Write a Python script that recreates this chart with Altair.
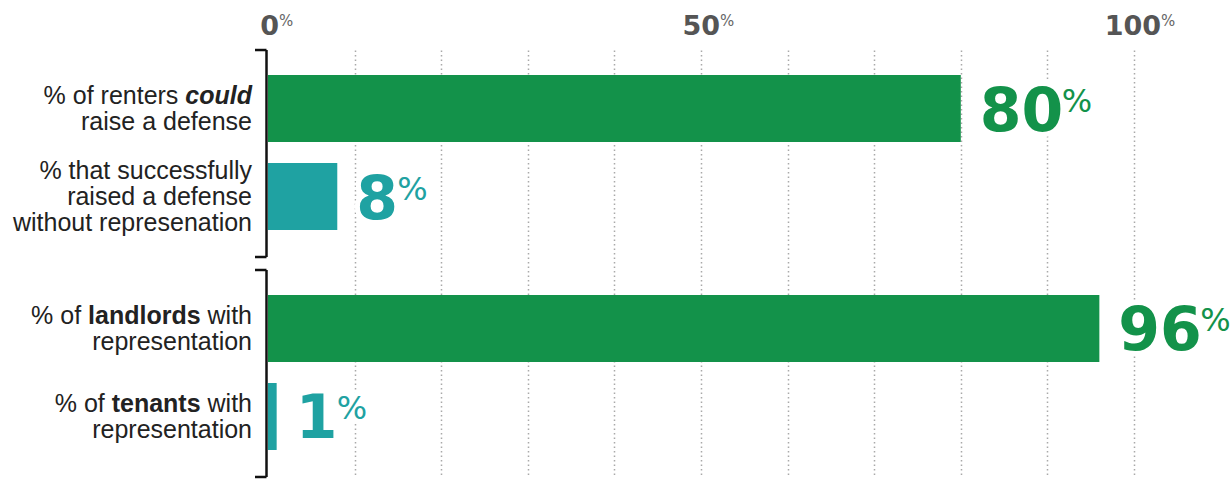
import altair as alt
import pandas as pd

# ---------------- data ----------------
groups = ["renters", "renters", "representation", "representation"]
rows = ["could", "successfully", "landlords", "tenants"]
values = [80, 8, 96, 1]
value_labels = ["80", "8", "96", "1"]
axis_ticks = [0, 50, 100]
axis_tick_labels = ["0", "50", "100"]
grid_values = [10, 20, 30, 40, 50, 60, 70, 80, 90, 100]
bracket_top_rows = ["could", "landlords"]
bracket_bottom_rows = ["successfully", "tenants"]

# label text per row: lines -> segments (text, weight, style)
row_label_lines = [
    [[("% of renters ", "normal", "normal"), ("could", "bold", "italic")],
     [("raise a defense", "normal", "normal")]],
    [[("% that successfully", "normal", "normal")],
     [("raised a defense", "normal", "normal")],
     [("without represenation", "normal", "normal")]],
    [[("% of ", "normal", "normal"), ("landlords", "bold", "normal"), (" with", "normal", "normal")],
     [("representation", "normal", "normal")]],
    [[("% of ", "normal", "normal"), ("tenants", "bold", "normal"), (" with", "normal", "normal")],
     [("representation", "normal", "normal")]],
]

# ---------------- style / layout ----------------
GREEN = "#13924a"
TEAL = "#1fa2a2"
bar_colors = [GREEN, TEAL, GREEN, TEAL]
W, H = 866, 425
PX_PER_UNIT = W / 100.0
LABEL_FONT = "Liberation Sans, Arial, sans-serif"
LABEL_SIZE = 25
LINE_H = 26
NUM_FONT = "DejaVu Sans"
# row slots on the vertical axis (spacer slots create the gaps)
y_domain = ["_t", "could", "_s1", "successfully", "_s2", "_s3", "landlords", "_s4",
            "tenants", "_b"]

# Liberation Sans (Arial metric) advance widths, units per 1000 em
REG = {' ': 278, '%': 889, 'a': 556, 'c': 500, 'd': 556, 'e': 556, 'f': 278, 'h': 556,
       'i': 222, 'l': 222, 'n': 556, 'o': 556, 'p': 556, 'r': 333, 's': 500, 't': 278,
       'u': 556, 'w': 722, 'y': 500}
BLD = {' ': 278, 'a': 556, 'c': 556, 'd': 611, 'e': 556, 'l': 278, 'n': 611, 'o': 611,
       'r': 389, 's': 556, 't': 333, 'u': 611}


def text_width(s, weight):
    table = BLD if weight == "bold" else REG
    return sum(table.get(c, 556) for c in s) * LABEL_SIZE / 1000.0


df = pd.DataFrame({"group": groups, "row": rows, "value": values, "label": value_labels})
bdf = pd.DataFrame({"row": bracket_top_rows, "row_end": bracket_bottom_rows})
tdf = pd.DataFrame({"tick": axis_ticks, "label": axis_tick_labels})

xscale = alt.Scale(domain=[0, 100], nice=False, zero=True)
yscale = alt.Scale(type="point", domain=y_domain, padding=0.33)


def Y(field="row:N"):
    return alt.Y(field, scale=yscale, axis=None)


color = alt.Color("row:N", scale=alt.Scale(domain=rows, range=bar_colors), legend=None)

bars = alt.Chart(df).mark_bar(height=67).encode(
    x=alt.X("value:Q", scale=xscale,
            axis=alt.Axis(orient="top", values=grid_values, labels=False, ticks=False,
                          domain=False, grid=True, title=None, gridColor="#9a9a9a",
                          gridDash=[1.5, 3], gridWidth=1.5, gridOpacity=0.85)),
    y=Y(), color=color,
)

bracket = alt.Chart(bdf).mark_rule(color="#111111", strokeWidth=2.5, yOffset=-58.5,
                                   y2Offset=60.5).encode(
    x=alt.value(-1.5), y=Y(), y2=alt.Y2("row_end:N"))
bracket_top = alt.Chart(bdf).mark_rule(color="#111111", strokeWidth=2.5, yOffset=-58.5).encode(
    x=alt.value(-13), x2=alt.value(-1.5), y=Y())
bracket_bot = alt.Chart(bdf).mark_rule(color="#111111", strokeWidth=2.5, yOffset=60.5).encode(
    x=alt.value(-13), x2=alt.value(-1.5), y=Y("row_end:N"))

layers = [bars, bracket, bracket_top, bracket_bot]

# value labels with white halo
for halo in (True, False):
    extra = dict(stroke="white", strokeWidth=10, strokeJoin="round") if halo else {}
    num = alt.Chart(df).mark_text(align="left", baseline="alphabetic", dx=19, dy=22,
                                  font=NUM_FONT, fontWeight="bold", fontSize=60, **extra).encode(
        x=alt.X("value:Q", scale=xscale), y=Y(), text="label:N",
        color=alt.value("white") if halo else color)
    pct = alt.Chart(df).transform_calculate(
        px="datum.value + 41*length(datum.label)/" + str(PX_PER_UNIT)
    ).mark_text(align="left", baseline="alphabetic", dx=19, dy=3,
                font=NUM_FONT, fontSize=32, **extra).encode(
        x=alt.X("px:Q", scale=xscale), y=Y(), text=alt.value("%"),
        color=alt.value("white") if halo else color)
    layers += [num, pct]

# top axis labels
tick_num = alt.Chart(tdf).transform_calculate(
    nx="datum.tick + (8*length(datum.label)+3)/" + str(PX_PER_UNIT)
).mark_text(align="right", baseline="alphabetic", font=NUM_FONT, fontWeight="bold",
            fontSize=27, color="#555555").encode(
    x=alt.X("nx:Q", scale=xscale), y=alt.value(-15), text="label:N")
tick_pct = alt.Chart(tdf).transform_calculate(
    nx="datum.tick + (8*length(datum.label)+3)/" + str(PX_PER_UNIT)
).mark_text(align="left", baseline="alphabetic", font=NUM_FONT,
            fontSize=15, color="#666666").encode(
    x=alt.X("nx:Q", scale=xscale), y=alt.value(-24), text=alt.value("%"))
layers += [tick_num, tick_pct]

# left row labels (segment by segment, right aligned)
RIGHT_EDGE = -16
for r, lines in zip(rows, row_label_lines):
    n = len(lines)
    for i, segs in enumerate(lines):
        dy = (i - (n - 1) / 2.0) * LINE_H + 0.716 * LABEL_SIZE / 2.0
        pos = RIGHT_EDGE
        for txt, weight, style in reversed(segs):
            trail = len(txt) - len(txt.rstrip())
            shown = txt.strip()
            xpos = pos - text_width(" " * trail, weight)
            seg = alt.Chart(pd.DataFrame({"row": [r]})).mark_text(
                align="right", baseline="alphabetic", dy=dy, font=LABEL_FONT,
                fontSize=LABEL_SIZE, fontWeight=weight, fontStyle=style, color="#222222"
            ).encode(x=alt.value(xpos), y=Y(), text=alt.value(shown))
            layers.append(seg)
            pos -= text_width(txt, weight)

chart = alt.layer(*layers).properties(
    width=W, height=H,
    padding={"left": 268, "top": 50, "right": 96, "bottom": 6},
    autosize=alt.AutoSizeParams(type="none"),
    background="white",
).configure_view(stroke=None)

chart.save("out.html", embed_options={"renderer": "svg", "actions": False})
